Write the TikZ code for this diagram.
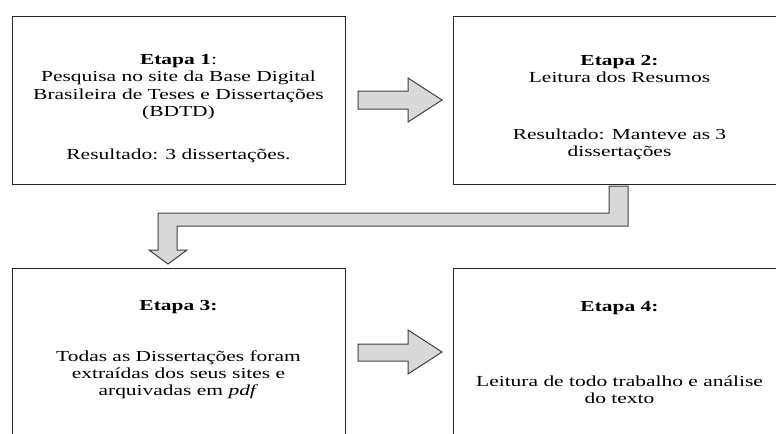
\documentclass[tikz,border=0pt]{standalone}
\usepackage{fontspec}
\setmainfont{Liberation Serif}
\usetikzlibrary{positioning}
\definecolor{setagray}{HTML}{D9D9D9}
\definecolor{linhagray}{HTML}{404040}
\tikzstyle{etapa} = [draw=black!85, line width=0.75pt, minimum width=249.75pt, minimum height=126pt, inner sep=0pt]
\tikzstyle{texto} = [align=center, inner sep=0pt, xscale=1.4, transform shape, font=\fontsize{11.5}{13}\selectfont]
\tikzstyle{seta} = [draw=linhagray, fill=setagray, line width=0.75pt, line join=miter]

\begin{document}
\begin{tikzpicture}[x=0.75pt,y=-0.75pt]
			\clip (0,0) rectangle (776,433);
			\node[etapa] (etapa1) at (178.5,100) {};
			\node[etapa] (etapa2) at (619.5,100) {};
			\node[etapa] (etapa3) at (178.5,352) {};
			\node[etapa] (etapa4) at (619.5,352) {};
			\node[texto, below=29pt of etapa1.north] (texto1) {\textbf{Etapa 1}:\\Pesquisa no site da Base Digital\\Brasileira de Teses e Dissertações\\(BDTD)\\[19pt]Resultado: 3 dissertações.};
			\node[texto, below=29.5pt of etapa2.north] (texto2) {\textbf{Etapa 2:}\\Leitura dos Resumos\\[29.5pt]Resultado: Manteve as 3\\dissertações};
			\node[texto, below=24.5pt of etapa3.north] (texto3) {\textbf{Etapa 3:}\\[25pt]Todas as Dissertações foram\\extraídas dos seus sites e\\arquivadas em \textit{pdf}};
			\node[texto, below=25.5pt of etapa4.north] (texto4) {\textbf{Etapa 4:}\\[43pt]Leitura de todo trabalho e análise\\do texto};
			% setas
			\draw[seta] (358,91) -- (408,91) -- (408,78) -- (442,100) -- (408,122) -- (408,109) -- (358,109) -- cycle;
			\draw[seta] (358,344) -- (408,344) -- (408,330) -- (442,352) -- (408,374) -- (408,361) -- (358,361) -- cycle;
			\draw[seta] (609,186) -- (628,186) -- (628,226) -- (177,226) -- (177,250) -- (187,250) -- (168,264) -- (149,250) -- (158,250) -- (158,213) -- (609,213) -- cycle;
		\end{tikzpicture}
\end{document}
